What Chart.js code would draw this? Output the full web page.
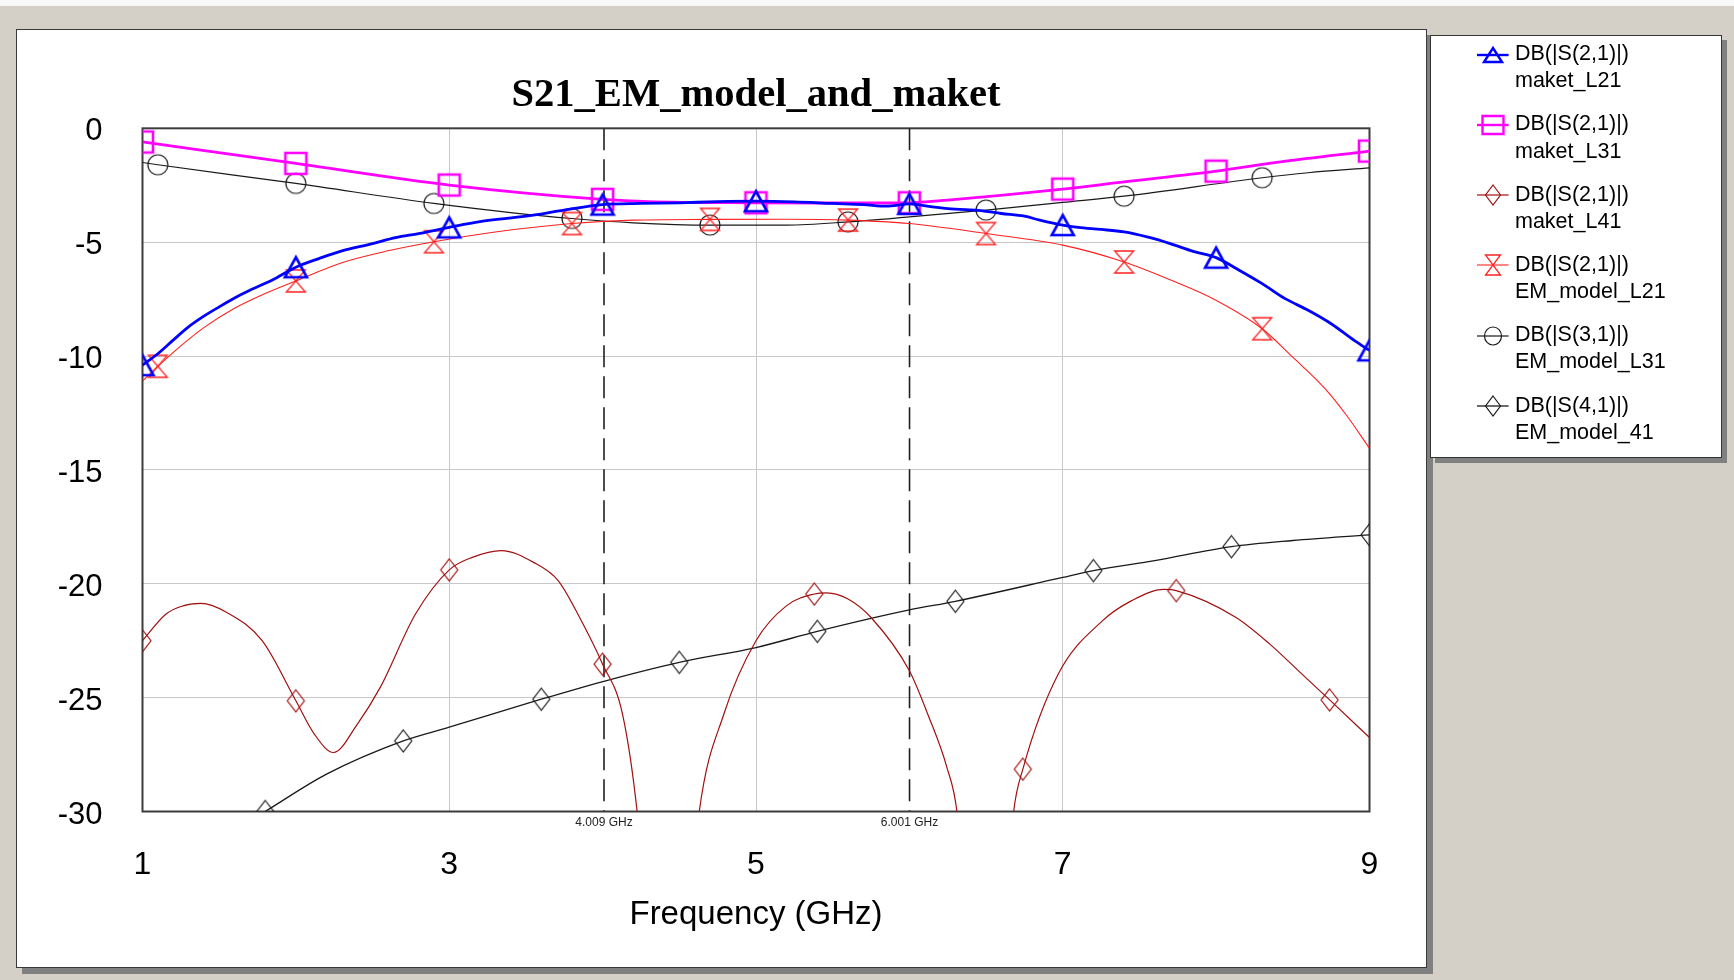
<!DOCTYPE html>
<html>
<head>
<meta charset="utf-8">
<script src="https://cdn.jsdelivr.net/npm/chart.js@4.4.1/dist/chart.umd.min.js"></script>
<style>
  html, body { margin: 0; padding: 0; }
  body { width: 1734px; height: 980px; overflow: hidden; background: #d4d0c8; position: relative; font-family: 'Liberation Sans', Arial, sans-serif; }
  #topstrip { position: absolute; left: 0; top: 0; width: 1734px; height: 6px; background: #f8f8f8; }
  #panel { position: absolute; left: 16px; top: 29px; width: 1409px; height: 937px; background: #fff; border: 1.5px solid #3a3a3a; box-shadow: 6px 6px 0 #808080; }
  #c { position: absolute; left: 0; top: 0; }
  #legend { position: absolute; left: 1430px; top: 35px; width: 290px; height: 421px; background: #fff; border: 1px solid #333; box-shadow: 5px 5px 0 #808080; }
  .lgicon { position: absolute; }
  .lgtext { position: absolute; font-size: 21.5px; line-height: 27.3px; color: #000; white-space: nowrap; }
</style>
</head>
<body>
<div id="topstrip"></div>
<div id="panel"></div>
<canvas id="c" width="1734" height="980"></canvas>
<div id="legendWrap"></div>
<script>
// ---------------- data ----------------
const xTicks = [1, 3, 5, 7, 9];
const yTicks = [0, -5, -10, -15, -20, -25, -30];
const markerFreqs = [4.009, 6.001];

// DB(|S(2,1)|) maket_L21 (blue, triangles)
const maketL21Freq = [1.0, 1.1, 1.2, 1.3, 1.4, 1.5, 1.6, 1.7, 1.85, 2.0, 2.15, 2.3, 2.5, 2.65, 2.8, 3.0, 3.2, 3.5, 3.75, 4.0, 4.25, 4.5, 4.75, 5.0, 5.25, 5.5, 5.7, 5.85, 6.0, 6.15, 6.3, 6.45, 6.6, 6.75, 6.85, 7.0, 7.1, 7.25, 7.4, 7.55, 7.7, 7.85, 8.0, 8.15, 8.3, 8.45, 8.6, 8.75, 8.9, 9.0];
const maketL21Db   = [-10.4, -9.9, -9.3, -8.72, -8.25, -7.84, -7.45, -7.11, -6.65, -6.1, -5.72, -5.38, -5.06, -4.8, -4.62, -4.35, -4.1, -3.86, -3.59, -3.35, -3.3, -3.27, -3.22, -3.2, -3.23, -3.3, -3.35, -3.42, -3.32, -3.45, -3.55, -3.6, -3.74, -3.86, -4.03, -4.25, -4.35, -4.44, -4.55, -4.77, -5.06, -5.4, -5.68, -6.23, -6.82, -7.48, -7.99, -8.58, -9.31, -9.75];
const maketL21Marks = [1.0, 2.0, 3.0, 4.0, 5.0, 6.0, 7.0, 8.0, 9.0];

// DB(|S(2,1)|) maket_L31 (magenta, squares)
const maketL31Freq = [1.0, 2.0, 3.0, 4.0, 4.3, 5.0, 5.5, 6.0, 6.25, 7.0, 7.4, 8.0, 8.42, 9.0];
const maketL31Db   = [-0.6, -1.54, -2.49, -3.12, -3.22, -3.27, -3.28, -3.27, -3.15, -2.67, -2.35, -1.88, -1.47, -1.0];
const maketL31Marks = [1.0, 2.0, 3.0, 4.0, 5.0, 6.0, 7.0, 8.0, 9.0];

// DB(|S(2,1)|) maket_L41 (dark red, diamonds)
const maketL41Freq = [1.0, 1.15, 1.25, 1.38, 1.55, 1.78, 2.0, 2.12, 2.245, 2.4, 2.55, 2.78, 3.0, 3.15, 3.34, 3.55, 3.71, 3.85, 4.0, 4.13, 4.225, 4.42, 4.63, 4.79, 5.0, 5.2, 5.38, 5.46, 5.6, 5.75, 6.0, 6.12, 6.245, 6.31, 6.5, 6.68, 6.74, 6.97, 7.26, 7.45, 7.66, 7.74, 8.13, 8.35, 8.56, 8.74, 9.0];
const maketL41Db   = [-22.5, -21.35, -21.0, -20.86, -21.26, -22.5, -25.14, -26.6, -27.41, -26.17, -24.55, -21.33, -19.39, -18.84, -18.54, -19.06, -19.86, -21.48, -23.53, -25.73, -30.0, -45.0, -30.0, -25.73, -22.5, -20.96, -20.45, -20.4, -20.67, -21.48, -23.82, -25.73, -28.07, -30.0, -45.0, -30.0, -28.14, -23.97, -21.62, -20.74, -20.25, -20.3, -21.48, -22.65, -23.97, -25.1, -26.75];
const maketL41Marks = [1.0, 2.0, 3.0, 4.0, 5.38, 6.74, 7.74, 8.74];

// DB(|S(2,1)|) EM_model_L21 (red, hourglass)
const emL21Freq = [1.0, 1.1, 1.25, 1.4, 1.6, 1.8, 2.0, 2.3, 2.6, 2.9, 3.3, 3.8, 4.2, 4.7, 5.2, 5.6, 6.0, 6.5, 7.0, 7.4, 7.7, 7.98, 8.3, 8.5, 8.71, 8.85, 9.0];
const emL21Db   = [-11.1, -10.45, -9.55, -8.75, -7.9, -7.25, -6.7, -5.9, -5.38, -4.98, -4.55, -4.18, -4.03, -4.0, -3.99, -4.03, -4.18, -4.62, -5.13, -5.87, -6.65, -7.48, -8.8, -10.05, -11.43, -12.6, -14.05];
const emL21Marks = [1.1, 2.0, 2.9, 3.8, 4.7, 5.6, 6.5, 7.4, 8.3];

// DB(|S(3,1)|) EM_model_L31 (black, circles)
const emL31Freq = [1.0, 1.1, 2.0, 2.9, 3.4, 3.8, 4.2, 4.7, 5.2, 5.6, 6.0, 6.5, 7.0, 7.4, 8.3, 8.6, 9.0];
const emL31Db   = [-1.5, -1.6, -2.42, -3.3, -3.7, -3.96, -4.15, -4.25, -4.25, -4.11, -3.89, -3.59, -3.25, -2.98, -2.17, -1.95, -1.74];
const emL31Marks = [1.1, 2.0, 2.9, 3.8, 4.7, 5.6, 6.5, 7.4, 8.3];

// DB(|S(4,1)|) EM_model_41 (black, diamonds)
const em41Freq = [1.8, 2.2, 2.7, 3.0, 3.6, 4.02, 4.5, 5.0, 5.4, 6.0, 6.3, 7.0, 7.2, 7.6, 8.1, 8.5, 9.0];
const em41Db   = [-30.0, -28.36, -26.9, -26.3, -25.07, -24.26, -23.45, -22.8, -22.09, -21.15, -20.77, -19.72, -19.42, -18.98, -18.37, -18.1, -17.85];
const em41Marks = [1.8, 2.7, 3.6, 4.5, 5.4, 6.3, 7.2, 8.1, 9.0];

const legendLine1 = ['DB(|S(2,1)|)', 'DB(|S(2,1)|)', 'DB(|S(2,1)|)', 'DB(|S(2,1)|)', 'DB(|S(3,1)|)', 'DB(|S(4,1)|)'];
const legendLine2 = ['maket_L21', 'maket_L31', 'maket_L41', 'EM_model_L21', 'EM_model_L31', 'EM_model_41'];

// ---------------- marker glyphs ----------------
function drawGlyph(g, kind, cx, cy, w, h) {
  const hw = w / 2, hh = h / 2;
  g.beginPath();
  if (kind === 'triangle') {
    g.moveTo(cx, cy - hh); g.lineTo(cx + hw, cy + hh); g.lineTo(cx - hw, cy + hh); g.closePath();
  } else if (kind === 'square') {
    g.rect(cx - hw, cy - hh, w, h);
  } else if (kind === 'circle') {
    g.ellipse(cx, cy, hw, hh, 0, 0, Math.PI * 2);
  } else if (kind === 'diamond') {
    g.moveTo(cx, cy - hh); g.lineTo(cx + hw, cy); g.lineTo(cx, cy + hh); g.lineTo(cx - hw, cy); g.closePath();
  } else if (kind === 'hourglass') {
    g.moveTo(cx - hw, cy - hh); g.lineTo(cx + hw, cy - hh); g.lineTo(cx - hw, cy + hh); g.lineTo(cx + hw, cy + hh); g.closePath();
  }
  g.stroke();
  if (kind === 'hourglass') g.fillRect(cx - 1, cy - 1, 2, 2);
}
function markerCanvas(kind, color, lw, w, h) {
  const pad = Math.ceil(lw) + 2;
  const c = document.createElement('canvas');
  c.width = Math.round(w) + 2 * pad; c.height = Math.round(h) + 2 * pad;
  const g = c.getContext('2d');
  g.strokeStyle = color; g.fillStyle = color; g.lineWidth = lw; g.lineJoin = 'miter';
  drawGlyph(g, kind, c.width / 2, c.height / 2, w, h);
  return c;
}

const seriesStyle = [
  { freq: maketL21Freq, db: maketL21Db, marks: maketL21Marks, color: '#0000ff', width: 2.8, kind: 'triangle', mw: 22, mh: 20, mlw: 2.6, lw: 18, lh: 14 },
  { freq: maketL31Freq, db: maketL31Db, marks: maketL31Marks, color: '#ff00ff', width: 2.8, kind: 'square', mw: 21, mh: 21, mlw: 2.6, lw: 21, lh: 18 },
  { freq: maketL41Freq, db: maketL41Db, marks: maketL41Marks, color: '#a01010', width: 1.2, kind: 'diamond', mw: 17, mh: 22, mlw: 1.2, lw: 15, lh: 20 },
  { freq: emL21Freq, db: emL21Db, marks: emL21Marks, color: '#ff2020', width: 1.1, kind: 'hourglass', mw: 19, mh: 22, mlw: 1.3, lw: 15, lh: 20 },
  { freq: emL31Freq, db: emL31Db, marks: emL31Marks, color: '#1a1a1a', width: 1.2, kind: 'circle', mw: 20, mh: 20, mlw: 1.2, lw: 17, lh: 18 },
  { freq: em41Freq, db: em41Db, marks: em41Marks, color: '#1a1a1a', width: 1.3, kind: 'diamond', mw: 17, mh: 22, mlw: 1.2, lw: 15, lh: 20 }
];

const datasets = seriesStyle.map((s, k) => {
  const set = new Set(s.marks);
  return {
    label: legendLine1[k] + ' ' + legendLine2[k],
    data: s.freq.map((f, i) => ({ x: f, y: s.db[i] })),
    borderColor: s.color,
    backgroundColor: s.color,
    borderWidth: s.width,
    fill: false,
    cubicInterpolationMode: 'monotone',
    pointStyle: markerCanvas(s.kind, s.color, s.mlw, s.mw, s.mh),
    pointRadius: ctx => (ctx.raw && set.has(ctx.raw.x)) ? 10 : 0,
    pointHoverRadius: 0,
    clip: 0
  };
});
markerFreqs.forEach(f => {
  datasets.push({
    label: 'marker ' + f,
    data: [{ x: f, y: yTicks[0] }, { x: f, y: yTicks[yTicks.length - 1] }],
    borderColor: '#202020',
    borderWidth: 1.6,
    borderDash: [22, 9],
    pointRadius: 0,
    tension: 0,
    clip: 0
  });
});

const framePlugin = {
  id: 'frame',
  beforeDatasetsDraw(chart) {
    const a = chart.chartArea, g = chart.ctx;
    g.save();
    g.strokeStyle = '#3c3c3c'; g.lineWidth = 2;
    g.strokeRect(a.left, a.top, a.right - a.left, a.bottom - a.top);
    g.restore();
  }
};
const markerLabelPlugin = {
  id: 'markerLabels',
  afterDatasetsDraw(chart) {
    const g = chart.ctx, xs = chart.scales.x, a = chart.chartArea;
    g.save();
    g.font = "12px 'Liberation Sans', Arial, sans-serif";
    g.fillStyle = '#222'; g.textAlign = 'center'; g.textBaseline = 'middle';
    markerFreqs.forEach(f => g.fillText(f.toFixed(3) + ' GHz', xs.getPixelForValue(f), a.bottom + 11.5));
    g.restore();
  }
};

const sans = "'Liberation Sans', Arial, sans-serif";
new Chart(document.getElementById('c').getContext('2d'), {
  type: 'line',
  data: { datasets },
  options: {
    responsive: false,
    animation: false,
    events: [],
    layout: { padding: { left: 0, right: 364.5, top: 0, bottom: 0 } },
    plugins: {
      legend: { display: false },
      tooltip: { enabled: false },
      title: {
        display: true, text: 'S21_EM_model_and_maket', fullSize: false, color: '#000',
        font: { family: "'Liberation Serif', 'Times New Roman', serif", size: 40.6, weight: 'bold', lineHeight: 1.2 },
        padding: { top: 71.2, bottom: 8.4 }
      }
    },
    scales: {
      x: {
        type: 'linear', min: xTicks[0], max: xTicks[xTicks.length - 1],
        afterFit: s => { s.height = 168.5; },
        afterBuildTicks: s => { s.ticks = xTicks.map(v => ({ value: v })); },
        ticks: { color: '#000', font: { family: sans, size: 32 }, padding: 34.5, callback: v => String(v), maxRotation: 0 },
        grid: { color: '#c8c8c8', lineWidth: 1, drawTicks: false },
        border: { display: false },
        title: { display: true, text: 'Frequency (GHz)', color: '#000', font: { family: sans, size: 33 }, padding: { top: 0, bottom: 45 } }
      },
      y: {
        type: 'linear', min: yTicks[yTicks.length - 1], max: yTicks[0],
        afterFit: s => { s.width = 142.5; },
        afterBuildTicks: s => { s.ticks = yTicks.slice().reverse().map(v => ({ value: v })); },
        ticks: { color: '#000', font: { family: sans, size: 31 }, padding: 40, labelOffset: 3.5, callback: v => String(v) },
        grid: { color: '#c8c8c8', lineWidth: 1, drawTicks: false },
        border: { display: false }
      }
    }
  },
  plugins: [framePlugin, markerLabelPlugin]
});

// ---------------- HTML legend ----------------
const wrap = document.getElementById('legendWrap');
const box = document.createElement('div'); box.id = 'legend'; wrap.appendChild(box);
seriesStyle.forEach((s, k) => {
  const cy = 54.5 + 70.3 * k;
  const ic = document.createElement('canvas');
  ic.width = 40; ic.height = 30; ic.className = 'lgicon';
  ic.style.left = '1472.7px'; ic.style.top = (cy - 15) + 'px';
  const g = ic.getContext('2d');
  g.strokeStyle = s.color; g.fillStyle = s.color;
  g.lineWidth = Math.min(s.width, 2.4);
  g.beginPath(); g.moveTo(4, 15); g.lineTo(35.6, 15); g.stroke();
  g.lineWidth = Math.min(s.mlw, 2.4);
  drawGlyph(g, s.kind, 20, 15, s.lw, s.lh);
  wrap.appendChild(ic);
  const t = document.createElement('div');
  t.className = 'lgtext';
  t.style.left = '1515px'; t.style.top = (cy - 14.5) + 'px';
  const l1 = document.createElement('div'); l1.textContent = legendLine1[k];
  const l2 = document.createElement('div'); l2.textContent = legendLine2[k];
  t.appendChild(l1); t.appendChild(l2);
  wrap.appendChild(t);
});
</script>
</body>
</html>
